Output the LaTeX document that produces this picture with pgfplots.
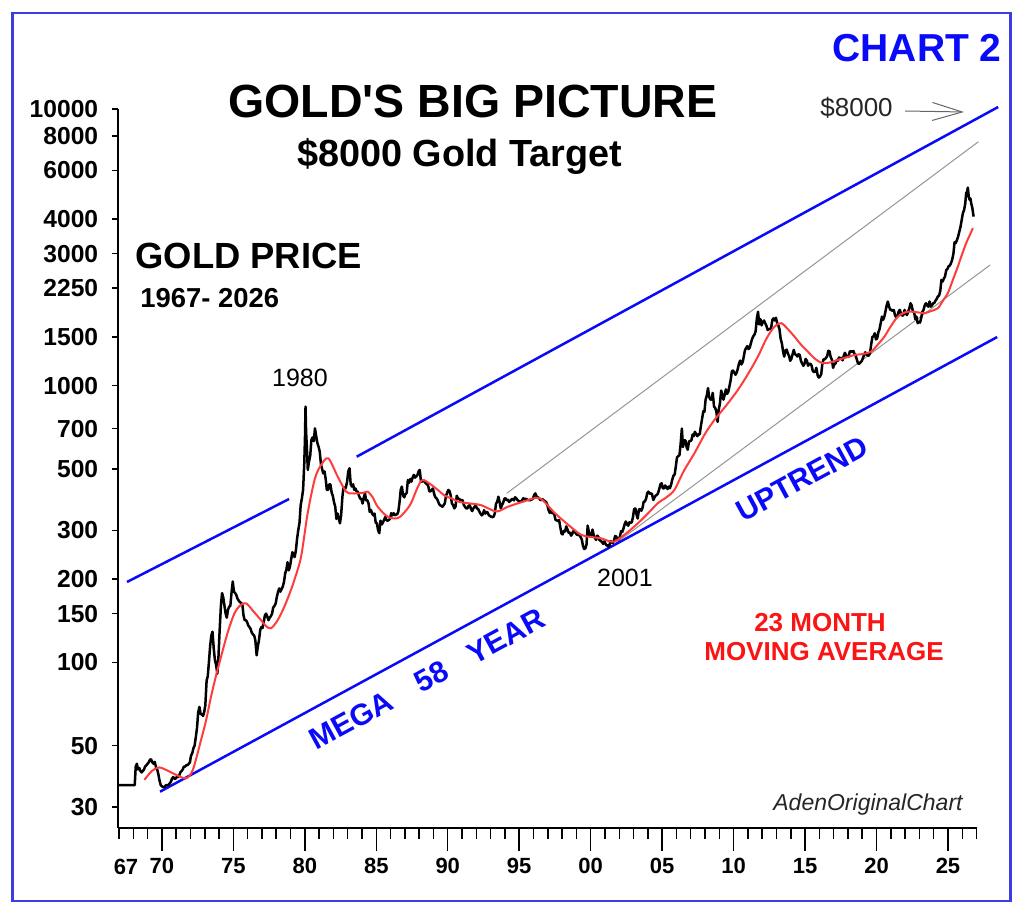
\documentclass[border=0pt]{standalone}
\usepackage{pgfplots}
\pgfplotsset{compat=1.18}
\usepackage{pgfplotstable}
\usepackage{fontspec}
\setmainfont{Liberation Sans}
\usepackage{graphicx}
\usetikzlibrary{arrows.meta}
\definecolor{bordercol}{RGB}{60,60,225}
\definecolor{tblue}{RGB}{10,10,250}
\definecolor{mared}{RGB}{255,60,60}
\definecolor{tred}{RGB}{250,20,20}
\definecolor{tgray}{RGB}{150,150,150}

\pgfplotstableread{
x y
1967.00 36
1968.10 36
1968.17 42
1968.25 43
1968.33 41
1968.42 41.5
1968.50 40.5
1968.58 40
1968.67 40.5
1968.75 41
1968.83 42
1968.92 42.5
1969.00 43
1969.08 43.5
1969.17 44.5
1969.25 44.6
1969.33 43.5
1969.42 43
1969.50 43.7
1969.58 42
1969.67 41
1969.75 39.5
1969.83 37.5
1969.92 36
1970.04 35.5
1970.13 35.5
1970.21 35.5
1970.29 36
1970.38 36
1970.46 36
1970.54 36.5
1970.63 37
1970.71 38
1970.79 38.5
1970.88 38
1970.96 38
1971.04 38.5
1971.13 38.5
1971.21 39
1971.29 40
1971.38 40.5
1971.46 41
1971.54 42
1971.63 42
1971.71 42.5
1971.79 42.5
1971.88 43
1971.96 43.5
1972.04 46
1972.13 47
1972.21 49
1972.29 50
1972.38 54
1972.46 58
1972.54 66
1972.63 69
1972.71 65
1972.79 65
1972.88 64
1972.96 66
1973.04 70
1973.13 86
1973.21 89
1973.29 100
1973.38 115
1973.46 125
1973.54 129
1973.63 112
1973.71 102
1973.79 98
1973.88 91
1973.96 105
1974.04 130
1974.13 160
1974.21 178
1974.29 172
1974.38 160
1974.46 150
1974.54 145
1974.63 155
1974.71 159
1974.79 160
1974.88 180
1974.96 196
1975.04 180
1975.13 178
1975.21 175
1975.29 170
1975.38 167
1975.46 165
1975.54 164
1975.63 162
1975.71 148
1975.79 142
1975.88 142
1975.96 140
1976.04 136
1976.13 134
1976.21 132
1976.29 128
1976.38 126
1976.46 125
1976.54 120
1976.63 106
1976.71 114
1976.79 120
1976.88 131
1976.96 134
1977.04 133
1977.13 140
1977.21 148
1977.29 150
1977.38 146
1977.46 142
1977.54 145
1977.63 147
1977.71 150
1977.79 158
1977.88 160
1977.96 163
1978.04 172
1978.13 180
1978.21 185
1978.29 180
1978.38 184
1978.46 188
1978.54 195
1978.63 210
1978.71 216
1978.79 230
1978.88 215
1978.96 222
1979.04 235
1979.13 250
1979.21 245
1979.29 240
1979.38 255
1979.46 280
1979.54 300
1979.63 320
1979.71 370
1979.79 390
1979.88 420
1979.96 520
1980.01 640
1980.05 840
1980.09 680
1980.13 620
1980.21 496
1980.29 530
1980.38 560
1980.46 636
1980.54 650
1980.63 630
1980.71 701
1980.79 660
1980.88 620
1980.96 602
1981.04 580
1981.13 520
1981.21 500
1981.29 482
1981.38 490
1981.46 460
1981.54 420
1981.63 420
1981.71 440
1981.79 440
1981.88 410
1981.96 400
1982.04 380
1982.13 365
1982.21 330
1982.29 345
1982.38 330
1982.46 318
1982.54 340
1982.63 397
1982.71 430
1982.79 420
1982.88 430
1982.96 450
1983.04 490
1983.13 503
1983.21 440
1983.29 432
1983.38 440
1983.46 420
1983.54 425
1983.63 414
1983.71 414
1983.79 400
1983.88 390
1983.96 390
1984.04 375
1984.13 395
1984.21 408
1984.29 385
1984.38 385
1984.46 375
1984.54 350
1984.63 355
1984.71 345
1984.79 340
1984.88 345
1984.96 320
1985.04 318
1985.13 300
1985.21 293
1985.29 325
1985.38 315
1985.46 320
1985.54 327
1985.63 335
1985.71 327
1985.79 325
1985.88 327
1985.96 330
1986.04 346
1986.13 340
1986.21 346
1986.29 340
1986.38 342
1986.46 343
1986.54 350
1986.63 380
1986.71 420
1986.79 432
1986.88 400
1986.96 395
1987.04 405
1987.13 410
1987.21 456
1987.29 445
1987.38 460
1987.46 450
1987.54 465
1987.63 476
1987.71 465
1987.79 470
1987.88 475
1987.96 490
1988.04 496
1988.13 450
1988.21 450
1988.29 455
1988.38 450
1988.46 444
1988.54 440
1988.63 435
1988.71 415
1988.79 415
1988.88 420
1988.96 425
1989.04 408
1989.13 395
1989.21 392
1989.29 386
1989.38 375
1989.46 370
1989.54 368
1989.63 365
1989.71 370
1989.79 375
1989.88 400
1989.96 410
1990.04 420
1990.13 415
1990.21 400
1990.29 375
1990.38 370
1990.46 360
1990.54 365
1990.63 400
1990.71 392
1990.79 390
1990.88 386
1990.96 386
1991.04 385
1991.13 370
1991.21 365
1991.29 360
1991.38 360
1991.46 368
1991.54 370
1991.63 358
1991.71 352
1991.79 360
1991.88 365
1991.96 370
1992.04 360
1992.13 358
1992.21 351
1992.29 345
1992.38 340
1992.46 343
1992.54 355
1992.63 345
1992.71 350
1992.79 348
1992.88 340
1992.96 338
1993.04 336
1993.13 335
1993.21 336
1993.29 345
1993.38 375
1993.46 380
1993.54 397
1993.63 380
1993.71 360
1993.79 370
1993.88 378
1993.96 390
1994.04 392
1994.13 385
1994.21 387
1994.29 380
1994.38 383
1994.46 388
1994.54 390
1994.63 385
1994.71 395
1994.79 392
1994.88 386
1994.96 383
1995.04 382
1995.13 380
1995.21 386
1995.29 392
1995.38 388
1995.46 390
1995.54 388
1995.63 386
1995.71 386
1995.79 386
1995.88 388
1995.96 390
1996.04 402
1996.13 408
1996.21 398
1996.29 395
1996.38 393
1996.46 387
1996.54 386
1996.63 389
1996.71 385
1996.79 383
1996.88 380
1996.96 372
1997.04 357
1997.13 347
1997.21 354
1997.29 346
1997.38 347
1997.46 342
1997.54 327
1997.63 326
1997.71 324
1997.79 327
1997.88 307
1997.96 292
1998.04 290
1998.13 299
1998.21 297
1998.29 310
1998.38 302
1998.46 294
1998.54 295
1998.63 287
1998.71 291
1998.79 298
1998.88 296
1998.96 293
1999.04 289
1999.13 289
1999.21 288
1999.29 284
1999.38 278
1999.46 264
1999.54 257
1999.63 258
1999.71 267
1999.79 312
1999.88 295
1999.96 285
2000.04 286
2000.13 302
2000.21 288
2000.29 282
2000.38 277
2000.46 287
2000.54 284
2000.63 276
2000.71 275
2000.79 272
2000.88 268
2000.96 274
2001.04 268
2001.13 264
2001.21 265
2001.29 262
2001.38 274
2001.46 272
2001.54 270
2001.63 275
2001.71 286
2001.79 285
2001.88 278
2001.96 278
2002.04 284
2002.13 298
2002.21 296
2002.29 304
2002.38 316
2002.46 323
2002.54 315
2002.63 312
2002.71 321
2002.79 319
2002.88 321
2002.96 335
2003.04 358
2003.13 360
2003.21 342
2003.29 331
2003.38 357
2003.46 358
2003.54 353
2003.63 362
2003.71 381
2003.79 381
2003.88 391
2003.96 409
2004.04 414
2004.13 407
2004.21 408
2004.29 406
2004.38 386
2004.46 394
2004.54 400
2004.63 403
2004.71 408
2004.79 422
2004.88 440
2004.96 444
2005.04 426
2005.13 425
2005.21 436
2005.29 430
2005.38 423
2005.46 432
2005.54 426
2005.63 439
2005.71 458
2005.79 472
2005.88 478
2005.96 512
2006.04 550
2006.13 557
2006.21 560
2006.29 612
2006.38 700
2006.46 600
2006.54 635
2006.63 634
2006.71 600
2006.79 587
2006.88 629
2006.96 631
2007.04 633
2007.13 666
2007.21 657
2007.29 681
2007.38 669
2007.46 657
2007.54 667
2007.63 667
2007.71 714
2007.79 756
2007.88 808
2007.96 805
2008.04 890
2008.13 924
2008.21 980
2008.29 910
2008.38 890
2008.46 892
2008.54 942
2008.63 841
2008.71 831
2008.79 808
2008.88 740
2008.96 818
2009.04 860
2009.13 960
2009.21 925
2009.29 890
2009.38 928
2009.46 970
2009.54 934
2009.63 950
2009.71 996
2009.79 1043
2009.88 1127
2009.96 1134
2010.04 1117
2010.13 1095
2010.21 1113
2010.29 1149
2010.38 1205
2010.46 1232
2010.54 1193
2010.63 1215
2010.71 1271
2010.79 1342
2010.88 1369
2010.96 1390
2011.04 1356
2011.13 1372
2011.21 1424
2011.29 1473
2011.38 1510
2011.46 1529
2011.54 1572
2011.63 1756
2011.71 1850
2011.79 1665
2011.88 1739
2011.96 1652
2012.04 1700
2012.13 1720
2012.21 1680
2012.29 1650
2012.38 1590
2012.46 1600
2012.54 1600
2012.63 1620
2012.71 1730
2012.79 1750
2012.88 1720
2012.96 1760
2013.04 1690
2013.13 1650
2013.21 1600
2013.29 1480
2013.38 1420
2013.46 1330
2013.54 1274
2013.63 1340
2013.71 1350
2013.79 1310
2013.88 1280
2013.96 1230
2014.04 1250
2014.13 1300
2014.21 1347
2014.29 1300
2014.38 1290
2014.46 1275
2014.54 1300
2014.63 1290
2014.71 1230
2014.79 1205
2014.88 1180
2014.96 1200
2015.04 1250
2015.13 1230
2015.21 1180
2015.29 1200
2015.38 1200
2015.46 1180
2015.54 1130
2015.63 1120
2015.71 1125
2015.79 1160
2015.88 1090
2015.96 1070
2016.04 1078
2016.13 1100
2016.21 1200
2016.29 1245
2016.38 1245
2016.46 1260
2016.54 1276
2016.63 1337
2016.71 1330
2016.79 1270
2016.88 1240
2016.96 1160
2017.04 1190
2017.13 1205
2017.21 1235
2017.29 1230
2017.38 1265
2017.46 1250
2017.54 1260
2017.63 1235
2017.71 1283
2017.79 1315
2017.88 1280
2017.96 1283
2018.04 1270
2018.13 1331
2018.21 1331
2018.29 1325
2018.38 1335
2018.46 1300
2018.54 1282
2018.63 1239
2018.71 1202
2018.79 1200
2018.88 1215
2018.96 1225
2019.04 1255
2019.13 1290
2019.21 1320
2019.29 1300
2019.38 1285
2019.46 1285
2019.54 1310
2019.63 1413
2019.71 1500
2019.79 1510
2019.88 1547
2019.96 1470
2020.04 1480
2020.13 1560
2020.21 1600
2020.29 1680
2020.38 1777
2020.46 1730
2020.54 1770
2020.63 1860
2020.71 1950
2020.79 2014
2020.88 1930
2020.96 1880
2021.04 1880
2021.13 1860
2021.21 1878
2021.29 1800
2021.38 1760
2021.46 1778
2021.54 1850
2021.63 1880
2021.71 1820
2021.79 1790
2021.88 1800
2021.96 1878
2022.04 1830
2022.13 1800
2022.21 1850
2022.29 1900
2022.38 1986
2022.46 1950
2022.54 1860
2022.63 1840
2022.71 1740
2022.79 1778
2022.88 1682
2022.96 1700
2023.04 1690
2023.13 1760
2023.21 1850
2023.29 1880
2023.38 1960
2023.46 1986
2023.54 1950
2023.63 1930
2023.71 2015
2023.79 1931
2023.88 1950
2023.96 1986
2024.04 1990
2024.13 2030
2024.21 2060
2024.29 2099
2024.38 2120
2024.46 2200
2024.54 2411
2024.63 2380
2024.71 2440
2024.79 2478
2024.88 2620
2024.96 2640
2025.04 2700
2025.13 2720
2025.21 2770
2025.29 2850
2025.38 3000
2025.46 3300
2025.54 3280
2025.63 3365
2025.71 3460
2025.79 3600
2025.88 3760
2025.96 3975
2026.04 4200
2026.13 4318
2026.21 4567
2026.27 4970
2026.33 5000
2026.39 5200
2026.45 4826
2026.51 4700
2026.57 4750
2026.62 4570
2026.70 4400
2026.79 4084
}\gold

\pgfplotstableread{
x y
1968.78 37.6
1969.30 40.5
1969.82 41.7
1970.40 40.6
1971.00 39.2
1971.69 38.1
1972.16 40.8
1972.74 52.4
1973.10 62
1973.44 75.2
1973.80 90
1974.14 104.8
1974.60 128
1975.07 150
1975.50 161
1975.89 163.5
1976.40 153
1976.94 142
1977.30 135
1977.64 132.8
1978.10 142
1978.57 159
1978.95 178
1979.27 198.5
1979.74 241
1980.20 346
1980.70 460
1981.14 517
1981.65 546
1982.30 469
1982.89 414
1983.30 408
1983.70 408
1984.10 410
1984.40 414
1984.75 395
1985.10 365
1985.80 336
1986.50 332
1987.00 350
1987.43 376
1987.90 430
1988.25 456
1988.80 440
1989.30 420
1989.80 400
1990.23 392
1990.80 380
1991.40 376
1992.33 370
1993.40 351
1994.20 365
1995.30 381
1996.42 392
1997.50 346
1998.40 315
1999.33 289
2000.00 284
2000.70 281
2001.20 275
2001.66 273
2002.40 290
2003.30 318
2004.00 345
2004.70 376
2005.30 395
2005.86 420
2006.50 490
2007.26 570
2008.00 670
2008.66 752
2009.50 850
2010.30 965
2011.00 1100
2011.70 1274
2012.30 1480
2012.86 1635
2013.33 1682
2013.80 1600
2014.26 1504
2014.70 1410
2015.19 1328
2015.70 1250
2016.24 1205
2016.80 1215
2017.29 1239
2017.90 1265
2018.46 1292
2019.00 1300
2019.62 1328
2020.10 1410
2020.55 1504
2021.00 1640
2021.49 1777
2022.00 1840
2022.43 1853
2022.90 1840
2023.36 1828
2023.80 1860
2024.29 1905
2024.70 2050
2024.99 2160
2025.35 2420
2025.69 2694
2025.95 2950
2026.27 3273
2026.50 3480
2026.74 3710
}\matable

\begin{document}
\begin{tikzpicture}[x=0.5pt,y=-0.5pt]
\useasboundingbox[fill=white] (0,0) rectangle (1024,914);
\begin{axis}[
  at={(59pt,-414pt)}, anchor=south west,
  width=429.5pt, height=359.5pt, scale only axis,
  xmin=1966.93, xmax=2027.03,
  ymode=log, log basis y=10, ymin=25.19, ymax=10000,
  axis x line=bottom, axis y line=left,
  axis line style={-, line width=1pt, black},
  xtick=\empty,
  ytick={30,50,100,150,200,300,500,700,1000,1500,2250,3000,4000,6000,8000,10000},
  yticklabels={30,50,100,150,200,300,500,700,1000,1500,2250,3000,4000,6000,8000,10000},
  yminorticks=false,
  tick align=outside,
  major tick length=3pt,
  tick style={line width=0.75pt, black},
  yticklabel style={font=\bfseries\fontsize{12.3}{14}\selectfont, xshift=-3.4pt},
  clip=false,
]
\addplot[tgray, line width=0.5pt] coordinates {(1994.13,408.3) (2027.13,7618)};
\addplot[tgray, line width=0.5pt] coordinates {(2001.50,263.4) (2027.95,2731)};
\addplot[tblue, line width=1.25pt] coordinates {(1967.56,195.2) (1978.90,389.5)};
\addplot[tblue, line width=1.25pt] coordinates {(1983.63,553.7) (2028.51,10167)};
\addplot[tblue, line width=1.25pt] coordinates {(1969.87,34.08) (2028.44,1499)};
\addplot[black, line width=1.25pt, line join=round] table {\gold};
\addplot[mared, line width=1pt, smooth, tension=0.5] table {\matable};
\end{axis}
\begin{axis}[
  at={(59pt,-414pt)}, anchor=south west,
  width=429.5pt, height=359.5pt, scale only axis,
  xmin=1966.93, xmax=2027.03, ymin=0, ymax=1,
  axis x line=bottom, axis y line=none,
  axis line style={-, line width=1pt, black},
  xtick={1970,1975,1980,1985,1990,1995,2000,2005,2010,2015,2020,2025},
  xticklabels={70,75,80,85,90,95,00,05,10,15,20,25},
  minor xtick={1967,1968,...,2027},
  tick align=outside,
  major tick length=11.5pt, minor tick length=5.5pt,
  tick style={line width=0.75pt, black},
  xticklabel style={font=\bfseries\fontsize{11}{13}\selectfont},
]
\addplot[draw=none] coordinates {(1970,0.5)};
\end{axis}
\draw[bordercol, line width=1.2pt] (12.5,13) rectangle (1010.5,901);
\node[anchor=base west, inner sep=0, font=\bfseries\fontsize{23.25}{26}\selectfont] at (228,118) {GOLD\textquotesingle S BIG PICTURE};
\node[anchor=base west, inner sep=0, font=\bfseries\fontsize{18.9}{21}\selectfont] at (297,166.5) {\$8000 Gold Target};
\node[anchor=base west, inner sep=0, font=\bfseries\fontsize{18.2}{20}\selectfont] at (135,268.3) {GOLD PRICE};
\node[anchor=base west, inner sep=0, font=\bfseries\fontsize{13.7}{15}\selectfont] at (140,307.3) {1967- 2026};
\node[anchor=base east, inner sep=0, font=\bfseries\fontsize{19.5}{22}\selectfont, text=tblue] at (1002,62) {CHART 2};
\node[anchor=base west, inner sep=0, font=\fontsize{13}{15}\selectfont, text=black!85] at (820,117) {\$8000};
\draw[black!60, line width=0.5pt, -{Straight Barb[length=15pt,width=9pt]}] (905,111) -- (964,112);
\node[anchor=base, inner sep=0, font=\fontsize{12.5}{14}\selectfont] at (300,387) {1980};
\node[anchor=base, inner sep=0, font=\fontsize{12.5}{14}\selectfont] at (625,587) {2001};
\node[rotate=28.5, inner sep=0, font=\bfseries\fontsize{15}{17}\selectfont, text=tblue] at (802,479) {UPTREND};
\node[rotate=28.5, inner sep=0, font=\bfseries\fontsize{15}{17}\selectfont, text=tblue] at (427,679) {MEGA\hspace{15pt}58\hspace{13pt}YEAR};
\node[anchor=base, inner sep=0, font=\bfseries\fontsize{13}{15}\selectfont, text=tred] at (820,632) {23 MONTH};
\node[anchor=base, inner sep=0, font=\bfseries\fontsize{13}{15}\selectfont, text=tred] at (824,661) {MOVING AVERAGE};
\node[anchor=base east, inner sep=0, font=\itshape\fontsize{11.5}{13}\selectfont, text=black!85] at (963,811) {AdenOriginalChart};
\node[inner sep=0, font=\bfseries\fontsize{11}{13}\selectfont] at (126,867) {67};
\end{tikzpicture}
\end{document}
